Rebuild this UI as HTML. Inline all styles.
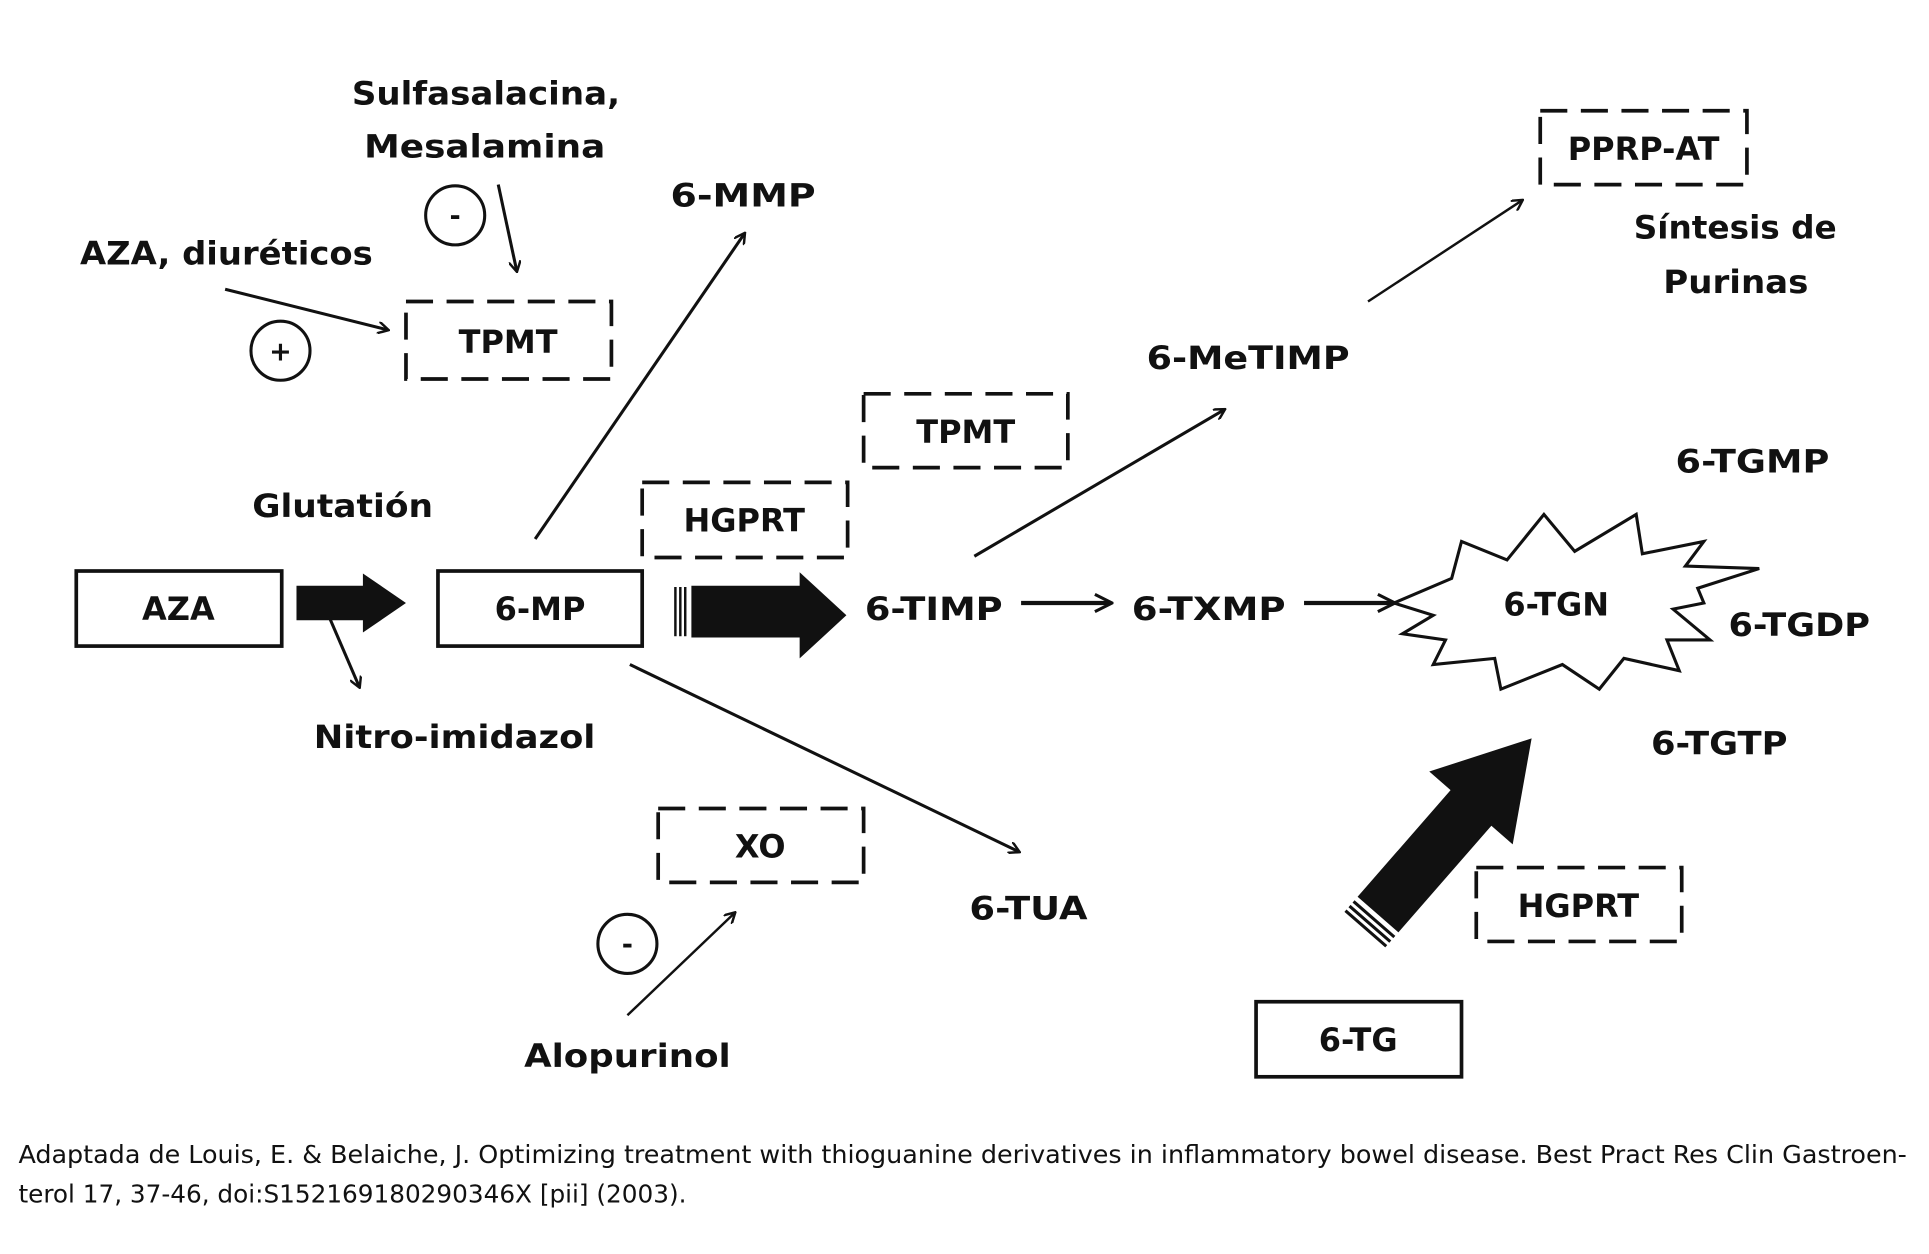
<!DOCTYPE html>
<html><head><meta charset="utf-8"><style>
html,body{margin:0;padding:0;background:#fff;}
svg{display:block;}
text{font-family:"DejaVu Sans","Liberation Sans",sans-serif;font-weight:bold;fill:#111;}
.c{font-family:"DejaVu Sans Condensed","DejaVu Sans","Liberation Sans",sans-serif;font-weight:normal;}
</style></head><body>
<svg width="1929" height="1254" viewBox="0 0 1568 1019" preserveAspectRatio="none" xmlns="http://www.w3.org/2000/svg">
<defs>
<marker id="ah" markerWidth="10" markerHeight="10" refX="8" refY="5" orient="auto" markerUnits="userSpaceOnUse" viewBox="0 0 10 10">
<path d="M0,0 L9,5 L0,10" fill="none" stroke="#111" stroke-width="2"/></marker>
<marker id="ah2" markerWidth="16" markerHeight="16" refX="14" refY="8" orient="auto" markerUnits="userSpaceOnUse">
<path d="M1,1 L15,8 L1,15" fill="none" stroke="#111" stroke-width="2.5"/></marker>
</defs>
<g font-size="26">
<text x="395" y="85" text-anchor="middle" textLength="218" lengthAdjust="spacingAndGlyphs">Sulfasalacina,</text>
<text x="394" y="128" text-anchor="middle" textLength="196" lengthAdjust="spacingAndGlyphs">Mesalamina</text>
<text x="65" y="215" textLength="238" lengthAdjust="spacingAndGlyphs">AZA, diuréticos</text>
<text x="545" y="168" textLength="118" lengthAdjust="spacingAndGlyphs">6-MMP</text>
<text x="205" y="420" textLength="147" lengthAdjust="spacingAndGlyphs">Glutatión</text>
<text x="255" y="608" textLength="229" lengthAdjust="spacingAndGlyphs">Nitro-imidazol</text>
<text x="703" y="504" textLength="112" lengthAdjust="spacingAndGlyphs">6-TIMP</text>
<text x="920" y="504" textLength="125" lengthAdjust="spacingAndGlyphs">6-TXMP</text>
<text x="932" y="300" textLength="165" lengthAdjust="spacingAndGlyphs">6-MeTIMP</text>
<text x="1328" y="194" textLength="165" lengthAdjust="spacingAndGlyphs">Síntesis de</text>
<text x="1352" y="238" textLength="118" lengthAdjust="spacingAndGlyphs">Purinas</text>
<text x="1362" y="384" textLength="125" lengthAdjust="spacingAndGlyphs">6-TGMP</text>
<text x="1405" y="517" textLength="115" lengthAdjust="spacingAndGlyphs">6-TGDP</text>
<text x="1342" y="613" textLength="111" lengthAdjust="spacingAndGlyphs">6-TGTP</text>
<text x="788" y="747" textLength="96" lengthAdjust="spacingAndGlyphs">6-TUA</text>
<text x="426" y="867" textLength="168" lengthAdjust="spacingAndGlyphs">Alopurinol</text>
</g>
<g fill="none" stroke="#111" stroke-width="2.5">
<circle cx="370" cy="175" r="24"/><circle cx="228" cy="285" r="24"/><circle cx="510" cy="767" r="24"/>
</g>
<g font-size="22" text-anchor="middle">
<text x="370" y="183">-</text><text x="228" y="293">+</text><text x="510" y="775">-</text>
</g>
<g fill="none" stroke="#111" stroke-width="3">
<rect x="62" y="464" width="167" height="61"/>
<rect x="356" y="464" width="166" height="61"/>
<rect x="1021" y="814" width="167" height="61"/>
</g>
<g fill="none" stroke="#111" stroke-width="3" stroke-dasharray="22,11">
<rect x="330" y="245" width="167" height="63"/>
<rect x="522" y="392" width="167" height="61"/>
<rect x="702" y="320" width="166" height="60"/>
<rect x="1252" y="90" width="168" height="60"/>
<rect x="535" y="657" width="167" height="60"/>
<rect x="1200" y="705" width="167" height="60"/>
</g>
<g font-size="26" text-anchor="middle">
<text x="145" y="504">AZA</text>
<text x="439" y="504">6-MP</text>
<text x="1104" y="854">6-TG</text>
<text x="413" y="287">TPMT</text>
<text x="605" y="432">HGPRT</text>
<text x="785" y="360">TPMT</text>
<text x="1336" y="130">PPRP-AT</text>
<text x="618" y="697">XO</text>
<text x="1283" y="745">HGPRT</text>
</g>
<g stroke="#111" stroke-width="2.5" fill="none" marker-end="url(#ah)">
<line x1="405" y1="150" x2="420" y2="220"/>
<line x1="183" y1="235" x2="315" y2="268"/>
<line x1="435" y1="438" x2="605" y2="190"/>
<line x1="267" y1="500" x2="292" y2="558"/>
<line x1="792" y1="452" x2="995" y2="333"/>
<line x1="1112" y1="245" x2="1237" y2="163" stroke-width="2"/>
<line x1="512" y1="540" x2="828" y2="692"/>
<line x1="510" y1="825" x2="597" y2="742" stroke-width="2"/>
</g>
<g stroke="#111" stroke-width="3.5" fill="none" marker-end="url(#ah2)">
<line x1="830" y1="490" x2="903" y2="490"/>
<line x1="1060" y1="490" x2="1133" y2="490"/>
</g>
<polygon points="241,476 295,476 295,466 330,490 295,514 295,504 241,504" fill="#111"/>
<polygon points="562,476 650,476 650,465 688,500 650,535 650,518 562,518" fill="#111"/>
<g stroke="#111" stroke-width="2"><line x1="549" y1="477" x2="549" y2="517"/><line x1="553" y1="477" x2="553" y2="517"/><line x1="557" y1="477" x2="557" y2="517"/></g>
<g transform="translate(1245,600) rotate(-48.9)">
<polygon points="0,0 -75,-45 -75,-22 -190,-22 -190,22 -75,22 -75,45" fill="#111"/>
<g stroke="#111" stroke-width="2.5"><line x1="-195" y1="-22" x2="-195" y2="22"/><line x1="-200" y1="-22" x2="-200" y2="22"/><line x1="-205" y1="-22" x2="-205" y2="22"/></g>
</g>
<polygon fill="#fff" stroke="#111" stroke-width="2.5" points="1133,490 1180,470 1188,440 1225,455 1255,418 1280,448 1330,418 1335,450 1385,440 1370,460 1430,462 1380,478 1385,490 1360,495 1390,520 1355,520 1365,545 1320,535 1300,560 1270,540 1220,560 1215,535 1165,540 1175,520 1140,515 1165,500"/>
<text x="1265" y="500" font-size="26" text-anchor="middle">6-TGN</text>
<text class="c" x="15" y="945" font-size="20" textLength="1535" lengthAdjust="spacingAndGlyphs">Adaptada de Louis, E. &amp; Belaiche, J. Optimizing treatment with thioguanine derivatives in inflammatory bowel disease. Best Pract Res Clin Gastroen-</text>
<text class="c" x="15" y="977" font-size="20" textLength="543" lengthAdjust="spacingAndGlyphs">terol 17, 37-46, doi:S152169180290346X [pii] (2003).</text>
</svg>
</body></html>
